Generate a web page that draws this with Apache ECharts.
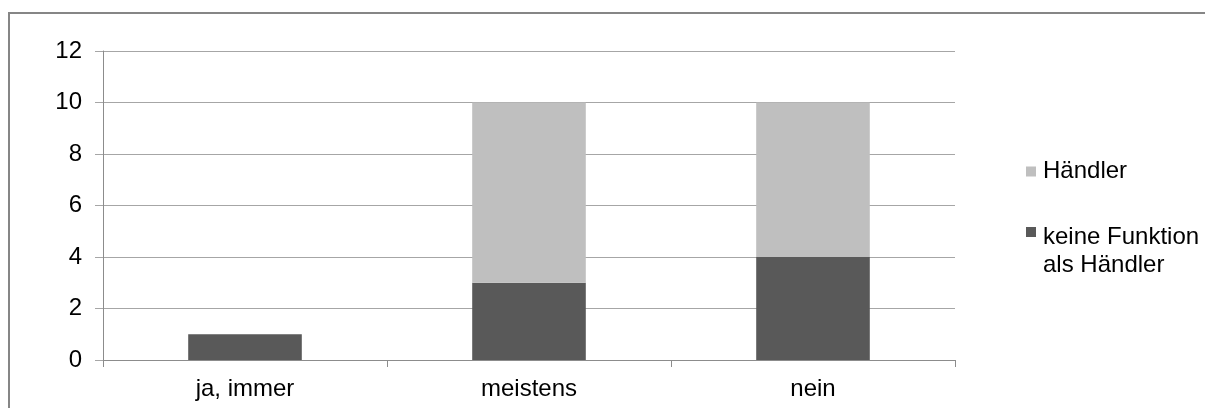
<!DOCTYPE html>
<html>
<head>
<meta charset="utf-8">
<script src="https://cdn.jsdelivr.net/npm/echarts@6/dist/echarts.min.js"></script>
<style>
html,body{margin:0;padding:0;background:#fff;}
#chart{width:1205px;height:408px;}
</style>
</head>
<body>
<div id="chart"></div>
<script>
const categories = ['ja, immer', 'meistens', 'nein'];
const keineFunktion = [1, 3, 4];
const haendler = [0, 7, 6];
const yTicks = { min: 0, max: 12, interval: 2 };
const seriesNames = ['keine Funktion als Händler', 'Händler'];

const FONT = '"Liberation Sans", Arial, sans-serif';
const FS = 24;
const chart = echarts.init(document.getElementById('chart'));
chart.setOption({
  animation: false,
  backgroundColor: '#ffffff',
  textStyle: { fontFamily: FONT },
  graphic: [{
    type: 'rect',
    shape: { x: 9, y: 13, width: 1300, height: 500 },
    style: { fill: 'none', stroke: '#868686', lineWidth: 2 },
    silent: true
  }],
  grid: { left: 103, right: 250, top: 51, bottom: 48 },
  legend: [{
    data: [seriesNames[1]],
    orient: 'vertical',
    left: 1026, top: 159.5,
    padding: 0,
    itemWidth: 10, itemHeight: 10,
    selectedMode: false,
    icon: 'rect',
    textStyle: { fontFamily: FONT, fontSize: FS, color: '#000', lineHeight: 24, padding: [0, 0, 0, 2] }
  }, {
    data: [seriesNames[0]],
    orient: 'vertical',
    left: 1026, top: 203,
    padding: 0,
    itemWidth: 10, itemHeight: 10,
    selectedMode: false,
    icon: 'rect',
    formatter: function () { return '{e| }\n{a|keine Funktion}\n{a|als Händler}'; },
    textStyle: {
      fontFamily: FONT, fontSize: FS, color: '#000', padding: [0, 0, 0, 2],
      rich: {
        e: { fontSize: 2, lineHeight: 39, fontFamily: FONT },
        a: { fontSize: FS, lineHeight: 28, fontFamily: FONT, color: '#000' }
      }
    }
  }],
  xAxis: {
    type: 'category',
    data: categories,
    boundaryGap: true,
    axisLine: { show: true, lineStyle: { color: '#8c8c8c', width: 1 } },
    axisTick: { show: true, alignWithLabel: false, length: 7, lineStyle: { color: '#8c8c8c' } },
    axisLabel: { fontFamily: FONT, fontSize: FS, color: '#000', margin: 17 },
    splitLine: { show: false }
  },
  yAxis: {
    type: 'value',
    min: yTicks.min, max: yTicks.max, interval: yTicks.interval,
    axisLine: { show: true, lineStyle: { color: '#8c8c8c', width: 1 } },
    axisTick: { show: true, length: 8, lineStyle: { color: '#a6a6a6' } },
    axisLabel: { fontFamily: FONT, fontSize: FS, color: '#000', margin: 21 },
    splitLine: { show: true, lineStyle: { color: '#a6a6a6', width: 1 } }
  },
  series: [{
    name: seriesNames[0],
    type: 'bar',
    stack: 'total',
    barWidth: '40%',
    data: keineFunktion,
    itemStyle: { color: '#595959' }
  }, {
    name: seriesNames[1],
    type: 'bar',
    stack: 'total',
    barWidth: '40%',
    data: haendler,
    itemStyle: { color: '#bfbfbf' }
  }]
});
</script>
</body>
</html>
